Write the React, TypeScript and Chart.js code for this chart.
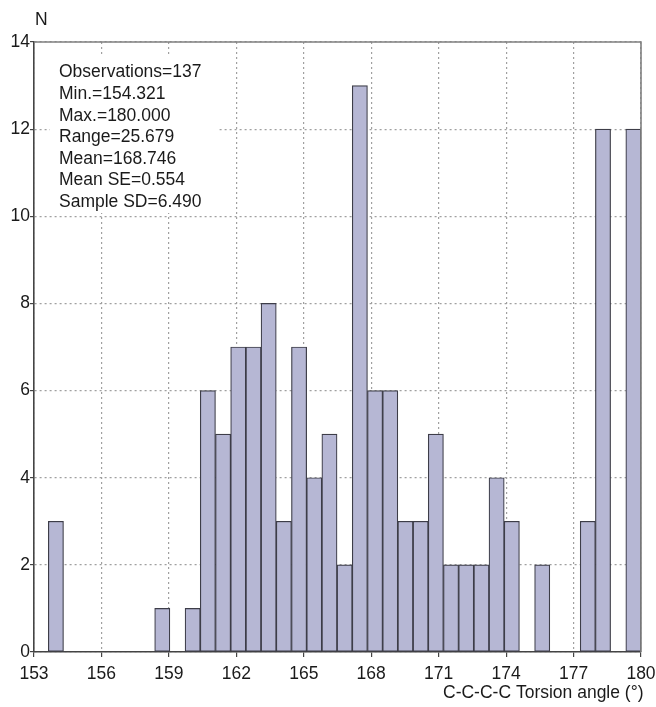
import React, { useEffect, useRef } from "react";
import { Chart, registerables } from "chart.js";

Chart.register(...registerables);

// Histogram bin centres (degrees)
const binCenters: number[] = [
  153.974, 154.65, 155.326, 156.002, 156.678, 157.354, 158.03, 158.706, 159.382,
  160.058, 160.734, 161.41, 162.086, 162.762, 163.438, 164.114, 164.79, 165.466,
  166.142, 166.818, 167.494, 168.17, 168.846, 169.522, 170.198, 170.874, 171.55,
  172.226, 172.902, 173.578, 174.254, 174.93, 175.606, 176.282, 176.958, 177.634,
  178.31, 178.986, 179.662,
];

// Counts per bin (N)
const counts: number[] = [
  3, 0, 0, 0, 0, 0, 0, 1, 0,
  1, 6, 5, 7, 7, 8, 3, 7, 4,
  5, 2, 13, 6, 6, 3, 3, 5, 2,
  2, 2, 4, 3, 0, 2, 0, 0, 3,
  12, 0, 12,
];

const statsLines: string[] = [
  "Observations=137",
  "Min.=154.321",
  "Max.=180.000",
  "Range=25.679",
  "Mean=168.746",
  "Mean SE=0.554",
  "Sample SD=6.490",
];

const xTitle = "C-C-C-C Torsion angle (°)";
const yTitle = "N";

const FONT = "'Liberation Sans', Arial, sans-serif";

export default function App() {
  const ref = useRef<HTMLCanvasElement | null>(null);

  useEffect(() => {
    if (!ref.current) return;
    const decor = {
      id: "decor",
      beforeDatasetsDraw(chart: any) {
        const { ctx } = chart;
        ctx.save();
        ctx.fillStyle = "#ffffff";
        ctx.fillRect(50, 57, 168, 156);
        ctx.fillStyle = "#1a1a1a";
        ctx.font = `17.5px ${FONT}`;
        ctx.textAlign = "left";
        ctx.textBaseline = "middle";
        statsLines.forEach((s, i) => {
          ctx.fillText(s, 59, 72.5 + i * 21.6);
        });
        ctx.restore();
      },
      afterDraw(chart: any) {
        const { ctx, chartArea } = chart;
        ctx.save();
        ctx.strokeStyle = "#808080";
        ctx.lineWidth = 1.6;
        ctx.beginPath();
        ctx.moveTo(chartArea.left, chartArea.top);
        ctx.lineTo(chartArea.right, chartArea.top);
        ctx.lineTo(chartArea.right, chartArea.bottom);
        ctx.stroke();
        ctx.fillStyle = "#1a1a1a";
        ctx.font = `17.5px ${FONT}`;
        ctx.textBaseline = "middle";
        ctx.textAlign = "left";
        ctx.fillText(yTitle, 35, 20);
        ctx.fillText(xTitle, 443, 693);
        ctx.restore();
      },
    };

    const chart = new Chart(ref.current, {
      type: "bar",
      data: {
        datasets: [
          {
            data: binCenters.map((x, i) => ({ x, y: counts[i] })),
            backgroundColor: "#b6b7d4",
            borderColor: "#3d3d48",
            borderWidth: 1.2,
            borderSkipped: false,
            barPercentage: 1,
            categoryPercentage: 1,
          },
        ],
      },
      options: {
        responsive: false,
        animation: false,
        layout: { padding: { top: 42, right: 15, left: 0, bottom: 0 } },
        plugins: { legend: { display: false }, tooltip: { enabled: false } },
        scales: {
          x: {
            type: "linear",
            min: 153,
            max: 180,
            offset: false,
            afterFit: (s: any) => {
              s.height = 55;
              s.paddingLeft = 0;
              s.paddingRight = 0;
            },
            ticks: {
              stepSize: 3,
              color: "#1a1a1a",
              font: { family: FONT, size: 17.5 },
              padding: 7,
              maxRotation: 0,
            },
            grid: {
              color: "#a0a0a0",
              lineWidth: 1.2,
              offset: false,
              tickLength: 5,
              tickColor: "#444",
              tickBorderDash: [],
            } as any,
            border: { color: "#444", width: 1.6, dash: [2, 3] },
          },
          y: {
            min: 0,
            max: 14,
            afterFit: (s: any) => {
              s.width = 34;
              s.paddingTop = 0;
              s.paddingBottom = 0;
            },
            ticks: {
              stepSize: 2,
              color: "#1a1a1a",
              font: { family: FONT, size: 17.5 },
              padding: 0,
            },
            grid: {
              color: "#a0a0a0",
              lineWidth: 1.2,
              tickLength: 4,
              tickColor: "#444",
              tickBorderDash: [],
            } as any,
            border: { color: "#444", width: 1.6, dash: [2, 3] },
          },
        },
      },
      plugins: [decor],
    } as any);
    return () => chart.destroy();
  }, []);

  return (
    <div style={{ position: "fixed", left: 0, top: 0, width: 656, height: 707, background: "#fff" }}>
      <canvas ref={ref} width={656} height={707} style={{ width: 656, height: 707 }} />
    </div>
  );
}
